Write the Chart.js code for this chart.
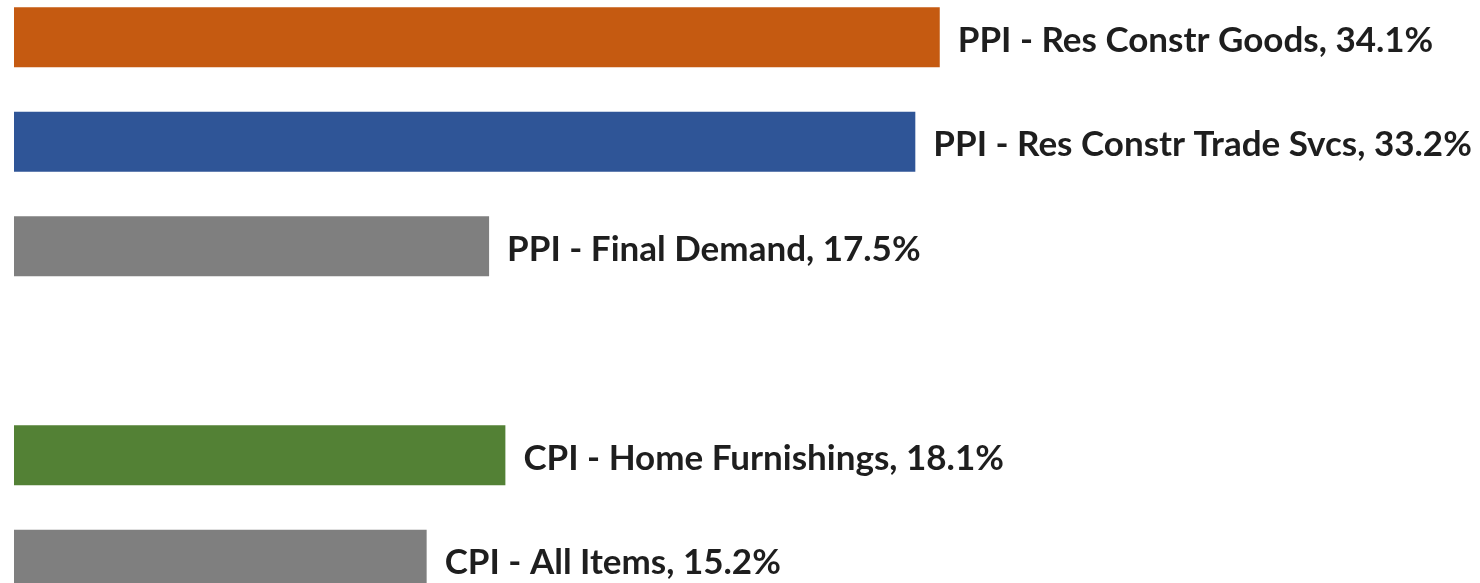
<!DOCTYPE html>
<html>
<head>
<meta charset="utf-8">
<script src="https://cdn.jsdelivr.net/npm/chart.js@4/dist/chart.umd.min.js"></script>
<style>
  html, body { margin: 0; padding: 0; background: #fff; overflow: hidden; }
  #wrap { position: absolute; left: 0; top: -15px; width: 1480px; height: 627px; }
</style>
</head>
<body>
<div id="wrap"><canvas id="myChart"></canvas></div>
<script>
const categories = [
  "PPI - Res Constr Goods",
  "PPI - Res Constr Trade Svcs",
  "PPI - Final Demand",
  "",
  "CPI - Home Furnishings",
  "CPI - All Items"
];
const values = [34.1, 33.2, 17.5, null, 18.1, 15.2];
const barColors = ["#C55A11", "#2F5597", "#7F7F7F", "#ffffff", "#538135", "#7F7F7F"];

// draws "name, value%" to the right of each bar
const barLabels = {
  id: "barLabels",
  afterDatasetsDraw(chart) {
    const ctx = chart.ctx;
    const meta = chart.getDatasetMeta(0);
    ctx.save();
    ctx.font = "bold 35px Lato";
    ctx.fillStyle = "#1e1e1e";
    ctx.textBaseline = "middle";
    meta.data.forEach(function (bar, i) {
      if (values[i] === null) return;
      ctx.fillText(categories[i] + ", " + values[i].toFixed(1) + "%", bar.x + 18, bar.y + 3);
    });
    ctx.restore();
  }
};

const ctx = document.getElementById("myChart").getContext("2d");
const myChart = new Chart(ctx, {
  type: "bar",
  data: {
    labels: categories,
    datasets: [
      {
        data: values,
        backgroundColor: barColors,
        borderWidth: 0,
        categoryPercentage: 1,
        barPercentage: 0.575,
      },
    ],
  },
  options: {
    indexAxis: "y",
    responsive: true,
    maintainAspectRatio: false,
    animation: false,
    layout: { padding: { left: 14, right: 0, top: 0, bottom: 0 } },
    scales: {
      x: { display: false, min: 0, max: 54 },
      y: { display: false },
    },
    plugins: {
      legend: { display: false },
      tooltip: { enabled: false },
    },
  },
  plugins: [barLabels],
});
</script>
</body>
</html>
